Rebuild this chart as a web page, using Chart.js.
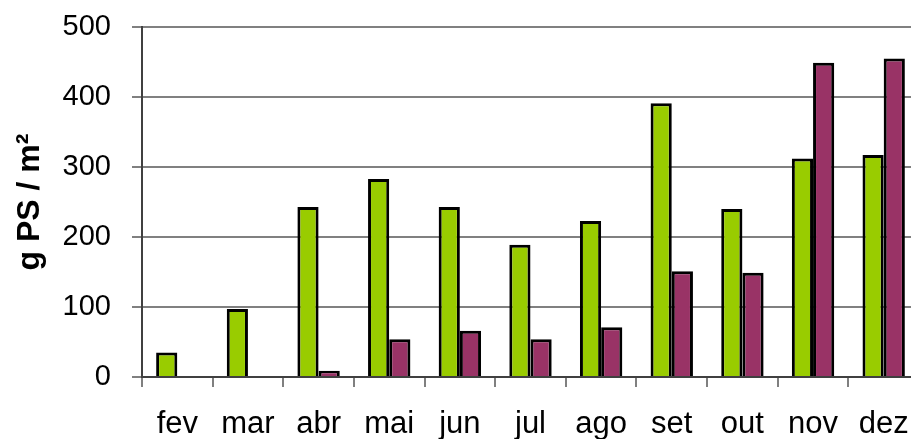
<!DOCTYPE html>
<html>
<head>
<meta charset="utf-8">
<script src="https://cdn.jsdelivr.net/npm/chart.js@4.4.0/dist/chart.umd.min.js"></script>
<style>
    html, body { margin: 0; padding: 0; background: #fff; overflow: hidden; }
</style>
</head>
<body>
<canvas id="grafico" width="919" height="439"></canvas>
<script>
// meses e valores (g PS / m2)
const meses = ['fev', 'mar', 'abr', 'mai', 'jun', 'jul', 'ago', 'set', 'out', 'nov', 'dez'];
const serieVerde = [35, 97, 243, 283, 243, 189, 223, 391, 240, 312, 317];
const serieRoxa = [null, null, 9, 54, 66, 54, 71, 151, 149, 449, 455];
const ticksY = [0, 100, 200, 300, 400, 500];

const fonte = "'Liberation Sans', Arial, sans-serif";

new Chart(document.getElementById('grafico'), {
    type: 'bar',
    data: {
        labels: meses,
        datasets: [{
            label: 'verde',
            data: serieVerde,
            backgroundColor: '#99cc00',
            borderColor: '#000',
            borderWidth: 3,
            categoryPercentage: 0.6,
            barPercentage: 1
        }, {
            label: 'roxo',
            data: serieRoxa,
            backgroundColor: '#993366',
            borderColor: '#000',
            borderWidth: 3,
            categoryPercentage: 0.6,
            barPercentage: 1
        }]
    },
    options: {
        responsive: false,
        animation: false,
        layout: { padding: { top: 27, left: 0, right: 0, bottom: 0 } },
        plugins: {
            legend: { display: false },
            tooltip: { enabled: false }
        },
        scales: {
            x: {
                grid: {
                    drawOnChartArea: false,
                    offset: true,
                    tickLength: 10,
                    color: '#808080',
                    lineWidth: 2
                },
                border: { color: '#404040', width: 2 },
                ticks: {
                    color: '#000',
                    padding: 19,
                    font: { family: fonte, size: 31 }
                },
                afterFit: function(scale) {
                    scale.height = 62;
                    scale.paddingLeft = 0;
                    scale.paddingRight = 0;
                }
            },
            y: {
                min: 0,
                max: 500,
                afterBuildTicks: function(scale) {
                    scale.ticks = ticksY.map(v => ({ value: v }));
                },
                grid: {
                    tickLength: 10,
                    color: '#808080',
                    lineWidth: 2
                },
                border: { color: '#404040', width: 2 },
                ticks: {
                    color: '#000',
                    padding: 21,
                    font: { family: fonte, size: 29 }
                },
                title: {
                    display: true,
                    text: 'g PS / m²',
                    color: '#000',
                    padding: { top: 11, bottom: 0 },
                    font: { family: fonte, size: 32, weight: 'bold' }
                },
                afterFit: function(scale) {
                    scale.width = 142;
                    scale.paddingTop = 0;
                    scale.paddingBottom = 0;
                }
            }
        }
    }
});
</script>
</body>
</html>
